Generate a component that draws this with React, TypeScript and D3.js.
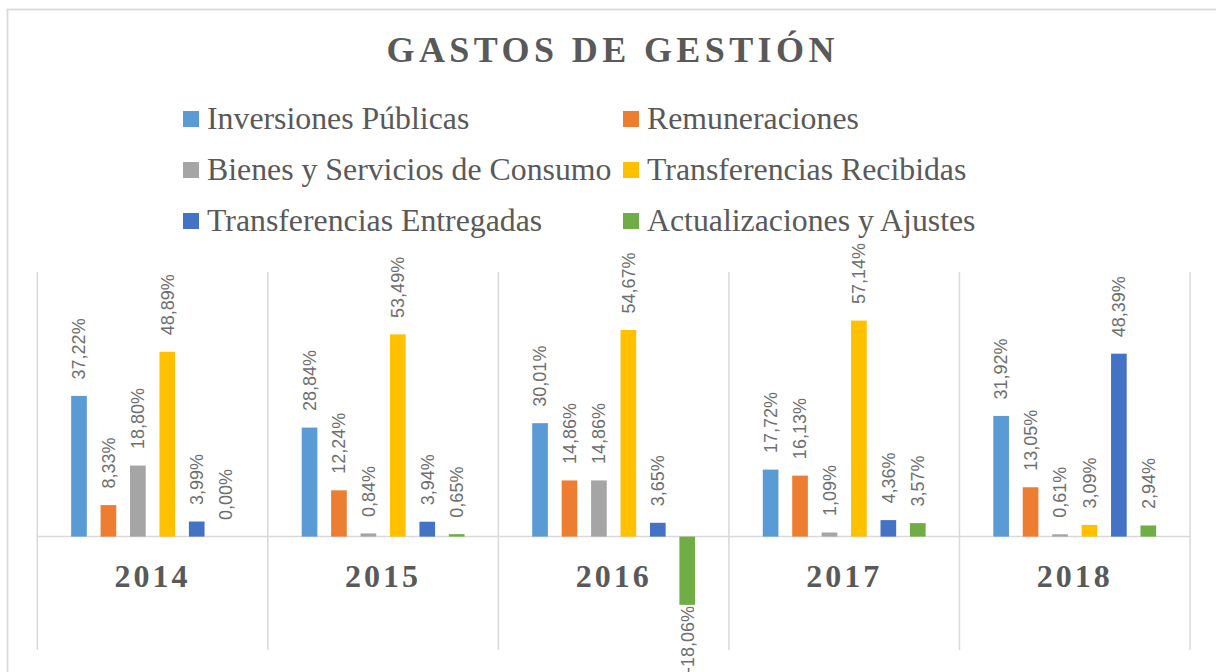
import React from "react";
import * as d3 from "d3";

const title = "GASTOS DE GESTIÓN";
const years = ["2014", "2015", "2016", "2017", "2018"];
const seriesNames = [
  "Inversiones Públicas",
  "Remuneraciones",
  "Bienes y Servicios de Consumo",
  "Transferencias Recibidas",
  "Transferencias Entregadas",
  "Actualizaciones y Ajustes",
];
const seriesColors = ["#5B9BD5", "#ED7D31", "#A5A5A5", "#FFC000", "#4472C4", "#70AD47"];
const inversiones = [37.22, 28.84, 30.01, 17.72, 31.92];
const remuneraciones = [8.33, 12.24, 14.86, 16.13, 13.05];
const bienes = [18.8, 0.84, 14.86, 1.09, 0.61];
const recibidas = [48.89, 53.49, 54.67, 57.14, 3.09];
const entregadas = [3.99, 3.94, 3.65, 4.36, 48.39];
const ajustes = [0.0, 0.65, -18.06, 3.57, 2.94];
const seriesValues = [inversiones, remuneraciones, bienes, recibidas, entregadas, ajustes];
const yDomain = [-30, 70];

const W = 1216;
const H = 672;
const TEXT = "#595959";
const GRID = "#D9D9D9";
const SERIF = "'Liberation Serif', 'Times New Roman', serif";
const SANS = "'Liberation Sans', Arial, sans-serif";

export default function App() {
  const plotLeft = 37.3;
  const plotRight = 1190;
  const plotTop = 272;
  const plotBottom = 650;

  const x0 = d3.scaleBand<string>().domain(years).range([plotLeft, plotRight]).padding(0);
  const x1 = d3
    .scaleBand<number>()
    .domain(d3.range(seriesNames.length))
    .range([0, x0.bandwidth()])
    .paddingInner(0.468)
    .paddingOuter(1.15);
  const y = d3.scaleLinear().domain(yDomain).range([plotBottom, plotTop]);
  const fmt = (v: number) => v.toFixed(2).replace(".", ",") + "%";

  const legendCols = [183, 623];
  const legendRows = [129, 180, 231];

  return (
    <svg
      width={W}
      height={H}
      style={{ position: "absolute", left: 0, top: 0, background: "#fff" }}
    >
      <rect x={0} y={0} width={W} height={H} fill="#fff" />
      <rect x={7.5} y={9.5} width={W + 20} height={H + 20} fill="none" stroke={GRID} strokeWidth={1.8} />

      <text
        x={612.7}
        y={62.3}
        textAnchor="middle"
        fontFamily={SERIF}
        fontWeight="bold"
        fontSize={36}
        letterSpacing={4.4}
        fill={TEXT}
      >
        {title}
      </text>

      {seriesNames.map((name, i) => {
        const col = i % 2;
        const row = Math.floor(i / 2);
        const lx = legendCols[col];
        const ly = legendRows[row];
        return (
          <g key={name}>
            <rect x={lx} y={ly - 18} width={16} height={16} fill={seriesColors[i]} />
            <text x={lx + 24} y={ly} fontFamily={SERIF} fontSize={31.8} fill={TEXT}>
              {name}
            </text>
          </g>
        );
      })}

      {/* category separators */}
      {[...years.map((yr) => x0(yr) as number), plotRight].map((gx, i) => (
        <line key={i} x1={gx} x2={gx} y1={plotTop} y2={plotBottom} stroke={GRID} strokeWidth={1.5} />
      ))}
      <line x1={plotLeft} x2={plotRight} y1={y(0)} y2={y(0)} stroke={GRID} strokeWidth={1.5} />

      {years.map((yr, ci) => (
        <g key={yr}>
          {seriesValues.map((vals, si) => {
            const v = vals[ci];
            const bx = (x0(yr) as number) + (x1(si) as number);
            const bw = x1.bandwidth();
            const yTop = y(Math.max(0, v));
            const yBot = y(Math.min(0, v));
            const cx = bx + bw / 2;
            const neg = v < 0;
            return (
              <g key={si}>
                <rect x={bx} y={yTop} width={bw} height={Math.max(0, yBot - yTop)} fill={seriesColors[si]} />
                <text
                  transform={`translate(${cx},${neg ? yBot + 1 : yTop - 16.5}) rotate(-90)`}
                  textAnchor={neg ? "end" : "start"}
                  dy="0.35em"
                  fontFamily={SANS}
                  fontSize={18}
                  fill="#6e6e6e"
                >
                  {fmt(v)}
                </text>
              </g>
            );
          })}
          <text
            x={(x0(yr) as number) + x0.bandwidth() / 2}
            y={586.7}
            textAnchor="middle"
            fontFamily={SERIF}
            fontWeight="bold"
            fontSize={32}
            letterSpacing={3}
            fill={TEXT}
          >
            {yr}
          </text>
        </g>
      ))}
    </svg>
  );
}
